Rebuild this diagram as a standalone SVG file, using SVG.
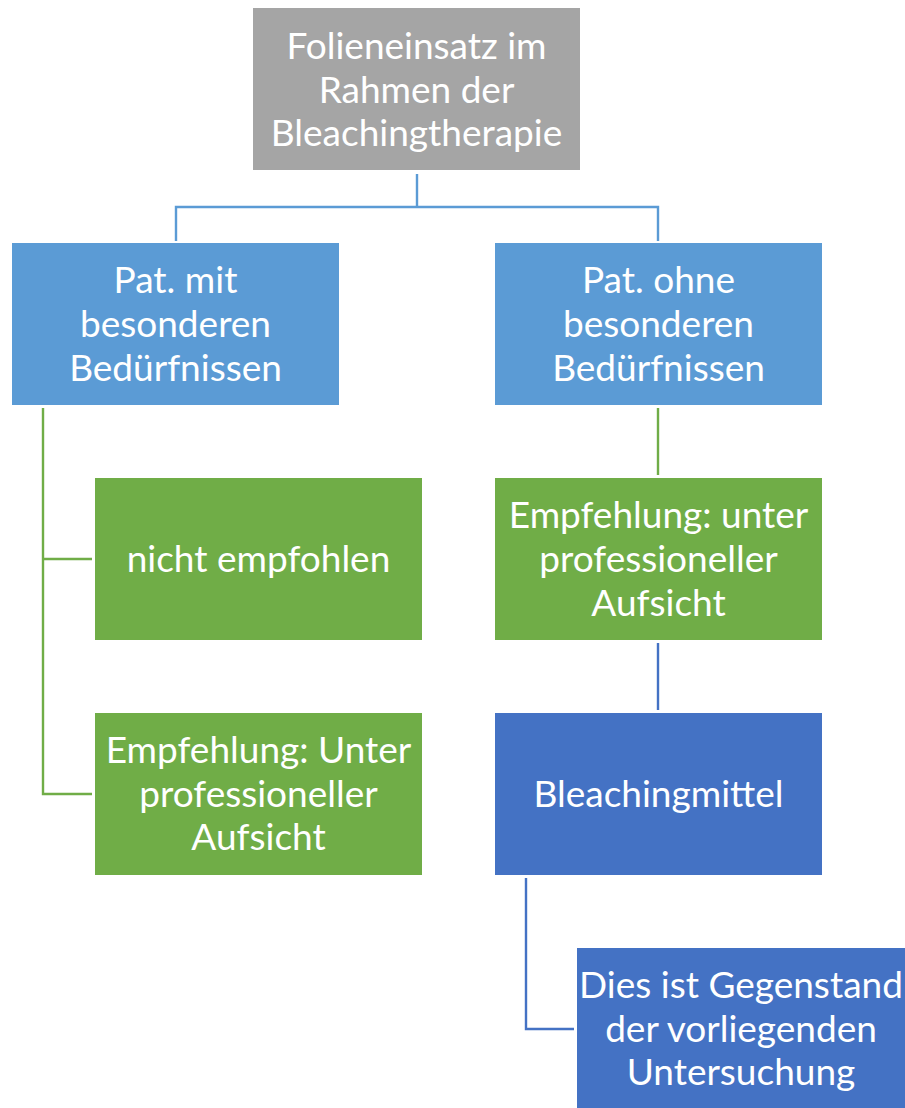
<svg xmlns="http://www.w3.org/2000/svg" width="905" height="1108" viewBox="0 0 905 1108">
<style>
text{font-family:"Lato","Open Sans","Liberation Sans",sans-serif;font-size:37px;fill:#fff;text-anchor:middle}
.c{fill:none;stroke-width:2.4}
.gray{fill:#A5A5A5}.blue{fill:#5B9BD5}.green{fill:#70AD47}.dblue{fill:#4472C4}
</style>
<rect width="905" height="1108" fill="#fff"/>
<g id="connectors">
<path class="c" stroke="#5B9BD5" d="M417 174V207M176 241V207H658V241"/>
<path class="c" stroke="#70AD47" d="M43 408V794H92M43 559H92"/>
<path class="c" stroke="#70AD47" d="M658 408V475"/>
<path class="c" stroke="#4472C4" d="M658 643V710"/>
<path class="c" stroke="#4472C4" d="M526 878V1029H574"/>
</g>
<g id="n0"><rect class="gray" x="253" y="8" width="327" height="162"/>
<text><tspan x="416.5" y="59">Folieneinsatz im</tspan><tspan x="416.5" y="103">Rahmen der</tspan><tspan x="416.5" y="146">Bleachingtherapie</tspan></text></g>
<g id="n1"><rect class="blue" x="12" y="243" width="327" height="162"/>
<text><tspan x="175.5" y="293">Pat. mit</tspan><tspan x="175.5" y="337">besonderen</tspan><tspan x="175.5" y="381">Bedürfnissen</tspan></text></g>
<g id="n2"><rect class="blue" x="495" y="243" width="327" height="162"/>
<text><tspan x="658.5" y="293">Pat. ohne</tspan><tspan x="658.5" y="337">besonderen</tspan><tspan x="658.5" y="381">Bedürfnissen</tspan></text></g>
<g id="n3"><rect class="green" x="95" y="478" width="327" height="162"/>
<text x="258.5" y="572">nicht empfohlen</text></g>
<g id="n4"><rect class="green" x="95" y="713" width="327" height="162"/>
<text><tspan x="258.5" y="763">Empfehlung: Unter</tspan><tspan x="258.5" y="807">professioneller</tspan><tspan x="258.5" y="850">Aufsicht</tspan></text></g>
<g id="n5"><rect class="green" x="495" y="478" width="327" height="162"/>
<text><tspan x="658.5" y="528">Empfehlung: unter</tspan><tspan x="658.5" y="572">professioneller</tspan><tspan x="658.5" y="616">Aufsicht</tspan></text></g>
<g id="n6"><rect class="dblue" x="495" y="713" width="327" height="162"/>
<text x="658.5" y="807">Bleachingmittel</text></g>
<g id="n7"><rect class="dblue" x="577" y="948" width="328" height="162"/>
<text><tspan x="741" y="998">Dies ist Gegenstand</tspan><tspan x="741" y="1042">der vorliegenden</tspan><tspan x="741" y="1085">Untersuchung</tspan></text></g>
</svg>
